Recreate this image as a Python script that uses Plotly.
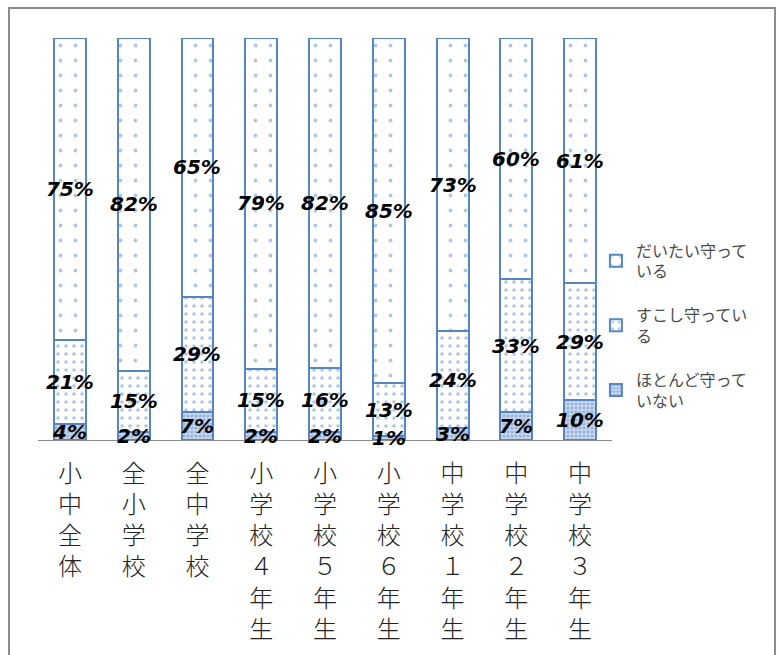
import plotly.graph_objects as go

categories = ["小<br>中<br>全<br>体", "全<br>小<br>学<br>校", "全<br>中<br>学<br>校",
              "小<br>学<br>校<br>４<br>年<br>生", "小<br>学<br>校<br>５<br>年<br>生",
              "小<br>学<br>校<br>６<br>年<br>生", "中<br>学<br>校<br>１<br>年<br>生",
              "中<br>学<br>校<br>２<br>年<br>生", "中<br>学<br>校<br>３<br>年<br>生"]
hotondo = [4, 2, 7, 2, 2, 1, 3, 7, 10]
sukoshi = [21, 15, 29, 15, 16, 13, 24, 33, 29]
daitai = [75, 82, 65, 79, 82, 85, 73, 60, 61]
series_names = ["ほとんど守って<br>いない", "すこし守ってい<br>る", "だいたい守って<br>いる"]

line_col = "#5685c4"
dot_col = "#5f8ccb"
patterns = [
    dict(shape=".", size=4, solidity=0.45, fgcolor=dot_col, bgcolor="#c9d8ee", fillmode="overlay"),
    dict(shape=".", size=8, solidity=0.16, fgcolor=dot_col, bgcolor="white", fillmode="overlay"),
    dict(shape=".", size=15, solidity=0.05, fgcolor=dot_col, bgcolor="white", fillmode="overlay"),
]
series = [hotondo, sukoshi, daitai]

fig = go.Figure()
for i, (name, vals) in enumerate(zip(series_names, series)):
    fig.add_trace(go.Bar(
        x=categories, y=vals, name=name,
        marker=dict(color="white", line=dict(color=line_col, width=2), pattern=patterns[i]),
        legendgroup=f"g{i}", legendrank=10 - i,
    ))

# percentage labels centred in each (normalised) segment
annotations = []
for j, cat in enumerate(categories):
    total = sum(s[j] for s in series)
    cum = 0
    for s in series:
        v = s[j]
        mid = (cum + v / 2) / total * 100
        cum += v
        annotations.append(dict(
            x=cat, y=mid, xref="x", yref="y", text=f"{v}%", showarrow=False,
            font=dict(family="DejaVu Sans", size=20, color="black", weight="bold", style="italic"),
        ))

fig.update_layout(
    barmode="stack", barnorm="percent", bargap=0.5,
    width=780, height=655,
    margin=dict(l=38, r=168, t=38, b=215, autoexpand=False),
    plot_bgcolor="white", paper_bgcolor="white",
    showlegend=True,
    legend=dict(x=0.972, y=0.285, xanchor="left", yanchor="middle",
                traceorder="grouped", tracegroupgap=20, bgcolor="rgba(0,0,0,0)",
                font=dict(family="Noto Sans CJK JP", size=16, color="#4a4a4a"),
                itemwidth=30),
    xaxis=dict(showline=True, linecolor="#8c8c8c", linewidth=1, ticks="",
               ticklabelstandoff=12, automargin=False,
               tickfont=dict(family="Noto Sans CJK JP", size=24, color="#222222", weight=300)),
    yaxis=dict(visible=False, range=[0, 100], automargin=False),
    annotations=annotations,
    shapes=[dict(type="rect", xref="paper", yref="paper",
                 x0=-0.0505, x1=1.284, y0=-0.56, y1=1.0746,
                 line=dict(color="#8c8c8c", width=2))],
)

fig.write_html("out.html")
